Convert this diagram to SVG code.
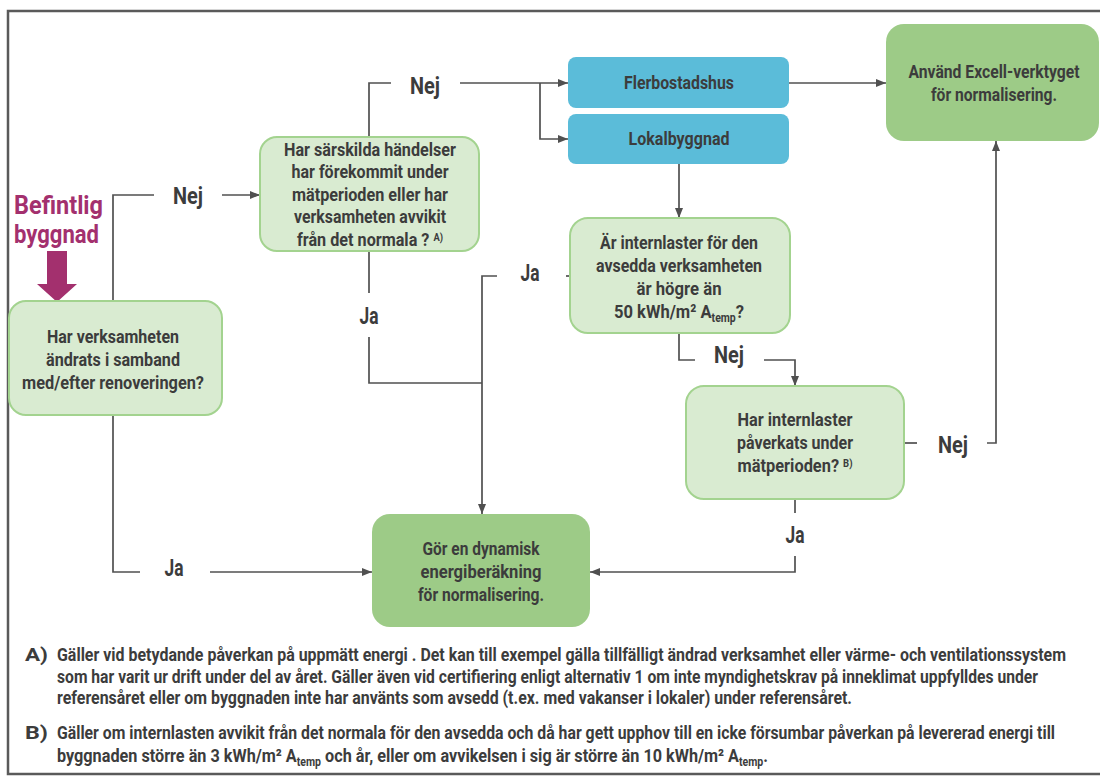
<svg xmlns="http://www.w3.org/2000/svg" width="1100" height="776" viewBox="0 0 1100 776">
<defs>
<style>
.t{font-family:Roboto,"Liberation Sans",sans-serif;font-weight:700;fill:#3c3c3c}
.nt{font-size:19px;text-anchor:middle}
.lb{font-size:23px;text-anchor:middle}
.fn{font-size:18.5px}
.q{fill:#d9ebd1;stroke:#a3d38f;stroke-width:2}
.g{fill:#9dcb87}
.b{fill:#5bbcd9}
.c{fill:none;stroke:#505050;stroke-width:1.7}
.sup{font-size:11px}
.sub{font-size:12px}
</style>
<marker id="ah" viewBox="0 0 10 10" refX="10" refY="5" markerWidth="10" markerHeight="10" markerUnits="userSpaceOnUse" orient="auto">
<path d="M0,1 L10,5 L0,9 Z" fill="#505050"/>
</marker>
</defs>
<rect width="1100" height="776" fill="#ffffff"/>
<rect x="8" y="11" width="1100" height="763" fill="none" stroke="#5a5a5a" stroke-width="2.5"/>

<g id="start">
<text class="t" x="14" y="214" font-size="25" style="fill:#a3306e" textLength="89" lengthAdjust="spacingAndGlyphs">Befintlig</text>
<text class="t" x="14" y="243" font-size="25" style="fill:#a3306e" textLength="85" lengthAdjust="spacingAndGlyphs">byggnad</text>
<polygon points="47,251 67,251 67,284 77,284 57,302 37,284 47,284" fill="#a3306e"/>
</g>

<g id="connectors">
<polyline class="c" points="113,301 113,195 154,195"/>
<line class="c" x1="222" y1="195" x2="260" y2="195" marker-end="url(#ah)"/>
<polyline class="c" points="369,137 369,83 391,83"/>
<line class="c" x1="460" y1="83" x2="568" y2="83" marker-end="url(#ah)"/>
<polyline class="c" points="540,83 540,139 568,139" marker-end="url(#ah)"/>
<line class="c" x1="789" y1="83" x2="886" y2="83" marker-end="url(#ah)"/>
<line class="c" x1="679" y1="164" x2="679" y2="218" marker-end="url(#ah)"/>
<line class="c" x1="369" y1="251" x2="369" y2="293"/>
<polyline class="c" points="369,337 369,383 482,383"/>
<line class="c" x1="566" y1="276" x2="570" y2="276"/>
<polyline class="c" points="497,276 482,276 482,514" marker-end="url(#ah)"/>
<polyline class="c" points="113,415 113,572 140,572"/>
<line class="c" x1="210" y1="572" x2="372" y2="572" marker-end="url(#ah)"/>
<polyline class="c" points="679,333 679,360 695,360"/>
<polyline class="c" points="764,360 795,360 795,386" marker-end="url(#ah)"/>
<line class="c" x1="904" y1="443" x2="917" y2="443"/>
<polyline class="c" points="987,443 996,443 996,141" marker-end="url(#ah)"/>
<line class="c" x1="795" y1="499" x2="795" y2="513"/>
<polyline class="c" points="795,556 795,572 590,572" marker-end="url(#ah)"/>
<text class="t lb" x="188" y="204" textLength="30" lengthAdjust="spacingAndGlyphs">Nej</text>
<text class="t lb" x="425" y="94" textLength="30" lengthAdjust="spacingAndGlyphs">Nej</text>
<text class="t lb" x="369" y="324" textLength="19" lengthAdjust="spacingAndGlyphs">Ja</text>
<text class="t lb" x="530" y="281" textLength="19" lengthAdjust="spacingAndGlyphs">Ja</text>
<text class="t lb" x="174" y="576" textLength="19" lengthAdjust="spacingAndGlyphs">Ja</text>
<text class="t lb" x="729" y="363" textLength="30" lengthAdjust="spacingAndGlyphs">Nej</text>
<text class="t lb" x="953" y="453" textLength="30" lengthAdjust="spacingAndGlyphs">Nej</text>
<text class="t lb" x="795" y="543" textLength="19" lengthAdjust="spacingAndGlyphs">Ja</text>
</g>

<g id="n1">
<rect class="q" x="9" y="301" width="213" height="114" rx="17"/>
<text class="t nt" x="113" y="343" textLength="132" lengthAdjust="spacingAndGlyphs">Har verksamheten</text>
<text class="t nt" x="113" y="366" textLength="134" lengthAdjust="spacingAndGlyphs">ändrats i samband</text>
<text class="t nt" x="113" y="389" textLength="182" lengthAdjust="spacingAndGlyphs">med/efter renoveringen?</text>
</g>

<g id="n2">
<rect class="q" x="260" y="137" width="219" height="114" rx="17"/>
<text class="t nt" x="370" y="156" textLength="172" lengthAdjust="spacingAndGlyphs">Har särskilda  händelser</text>
<text class="t nt" x="370" y="178" textLength="157" lengthAdjust="spacingAndGlyphs">har förekommit under</text>
<text class="t nt" x="370" y="201" textLength="156" lengthAdjust="spacingAndGlyphs">mätperioden eller har</text>
<text class="t nt" x="370" y="223" textLength="152" lengthAdjust="spacingAndGlyphs">verksamheten avvikit</text>
<text class="t nt" x="370" y="246" textLength="146" lengthAdjust="spacingAndGlyphs">från det normala ? <tspan class="sup" dy="-5">A)</tspan></text>
</g>

<g id="flerbostadshus">
<rect class="b" x="568" y="57" width="221" height="51" rx="8"/>
<text class="t nt" x="679" y="89" textLength="110" lengthAdjust="spacingAndGlyphs">Flerbostadshus</text>
</g>

<g id="lokalbyggnad">
<rect class="b" x="568" y="114" width="221" height="50" rx="8"/>
<text class="t nt" x="679" y="145" textLength="101" lengthAdjust="spacingAndGlyphs">Lokalbyggnad</text>
</g>

<g id="excel">
<rect class="g" x="886" y="24" width="213" height="117" rx="18"/>
<text class="t nt" x="994" y="78" textLength="171" lengthAdjust="spacingAndGlyphs">Använd Excell-verktyget</text>
<text class="t nt" x="994" y="101" textLength="126" lengthAdjust="spacingAndGlyphs">för normalisering.</text>
</g>

<g id="n3">
<rect class="q" x="570" y="218" width="220" height="115" rx="18"/>
<text class="t nt" x="679" y="249" textLength="158" lengthAdjust="spacingAndGlyphs">Är internlaster för den</text>
<text class="t nt" x="679" y="272" textLength="166" lengthAdjust="spacingAndGlyphs">avsedda verksamheten</text>
<text class="t nt" x="679" y="295" textLength="85" lengthAdjust="spacingAndGlyphs">är högre än</text>
<text class="t nt" x="679" y="318" textLength="130" lengthAdjust="spacingAndGlyphs">50 kWh/m² A<tspan class="sub" dy="4">temp</tspan><tspan dy="-4">?</tspan></text>
</g>

<g id="n4">
<rect class="q" x="686" y="386" width="218" height="113" rx="18"/>
<text class="t nt" x="795" y="426" textLength="115" lengthAdjust="spacingAndGlyphs">Har internlaster</text>
<text class="t nt" x="795" y="449" textLength="116" lengthAdjust="spacingAndGlyphs">påverkats under</text>
<text class="t nt" x="795" y="472" textLength="115" lengthAdjust="spacingAndGlyphs">mätperioden? <tspan class="sup" dy="-5">B)</tspan></text>
</g>

<g id="dynamic">
<rect class="g" x="372" y="514" width="218" height="113" rx="18"/>
<text class="t nt" x="481" y="555" textLength="117" lengthAdjust="spacingAndGlyphs">Gör en dynamisk</text>
<text class="t nt" x="481" y="578" textLength="121" lengthAdjust="spacingAndGlyphs">energiberäkning</text>
<text class="t nt" x="481" y="601" textLength="126" lengthAdjust="spacingAndGlyphs">för normalisering.</text>
</g>

<g id="footnotes">
<text class="t fn" x="25" y="661" textLength="23" lengthAdjust="spacingAndGlyphs">A)</text>
<text class="t fn" x="57" y="661" textLength="1009" lengthAdjust="spacingAndGlyphs">Gäller vid betydande påverkan på uppmätt energi . Det kan till exempel gälla tillfälligt  ändrad verksamhet eller värme- och ventilationssystem</text>
<text class="t fn" x="57" y="683" textLength="981" lengthAdjust="spacingAndGlyphs">som har varit ur drift under del av året. Gäller även vid certifiering enligt alternativ 1 om inte myndighetskrav på inneklimat uppfylldes under</text>
<text class="t fn" x="57" y="704" textLength="795" lengthAdjust="spacingAndGlyphs">referensåret eller om byggnaden inte har använts som avsedd (t.ex. med vakanser i lokaler) under referensåret.</text>
<text class="t fn" x="25" y="739" textLength="23" lengthAdjust="spacingAndGlyphs">B)</text>
<text class="t fn" x="57" y="739" textLength="998" lengthAdjust="spacingAndGlyphs">Gäller om internlasten avvikit från det normala för den avsedda och då har gett upphov till en icke försumbar påverkan på levererad energi till</text>
<text class="t fn" x="57" y="762" textLength="711" lengthAdjust="spacingAndGlyphs">byggnaden större än 3 kWh/m² A<tspan class="sub" dy="4">temp</tspan><tspan dy="-4"> och år, eller om avvikelsen i sig är större än 10 kWh/m² A</tspan><tspan class="sub" dy="4">temp</tspan><tspan dy="-4">.</tspan></text>
</g>
</svg>
